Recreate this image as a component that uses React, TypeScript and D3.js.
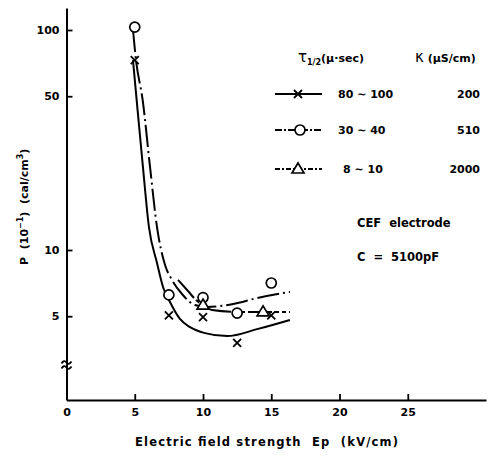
import { useEffect, useRef } from "react";
import * as d3 from "d3";

// measured points (E field kV/cm, P x10^-1 cal/cm3)
const crossPts: [number, number][] = [
  [5, 73],
  [7.5, 5.05],
  [10, 4.95],
  [12.5, 3.78],
  [15, 5.05],
];
const circlePts: [number, number][] = [
  [5, 103],
  [7.5, 6.25],
  [10, 6.08],
  [12.5, 5.17],
  [15, 7.08],
];
const trianglePts: [number, number][] = [
  [10, 5.62],
  [14.4, 5.23],
];

// hand drawn fit curves
const solidCurve: [number, number][] = [
  [4.87, 73], [5.14, 48], [5.6, 23.8], [6.04, 12.7], [6.63, 8.73],
  [7.07, 6.79], [7.58, 5.8], [8.31, 4.86], [9.05, 4.46], [10.15, 4.19],
  [11.76, 4.06], [14.03, 4.38], [16.37, 4.81],
];
const dashDotCurve: [number, number][] = [
  [4.87, 100], [5.09, 73], [5.58, 48], [6.12, 23.8], [6.63, 12.7],
  [7.22, 8.55], [7.73, 7.31], [8.46, 6.31], [9.41, 5.62], [10.29, 5.51],
  [12.2, 5.68], [13.96, 6.05], [16.37, 6.45],
];
const dottedCurve: [number, number][] = [
  [8.17, 7.31], [8.9, 6.51], [9.49, 5.92], [10.0, 5.62], [10.66, 5.34],
  [12.71, 5.23], [16.37, 5.23],
];

const xTicks = [0, 5, 10, 15, 20, 25];
const yTicks = [5, 10, 50, 100];

const legendTau = ["80 \u223C 100", "30 \u223C 40", "8 \u223C 10"];
const legendKappa = ["200", "510", "2000"];

const FONT = "'DejaVu Sans', sans-serif";

const App = () => {
  const width = 502;
  const height = 456;
  const xAxisRef = useRef<SVGGElement>(null);
  const yAxisRef = useRef<SVGGElement>(null);

  const xScale = d3.scaleLinear().domain([0, 30.73]).range([66.5, 486]);
  const yScale = d3
    .scaleLog()
    .domain([Math.pow(10, 1 - 150 / 220), Math.pow(10, 1 + 242 / 220)])
    .range([400, 8]);

  useEffect(() => {
    const style = (g: d3.Selection<SVGGElement, unknown, null, undefined>) => {
      g.attr("font-family", FONT).attr("font-size", 11).attr("font-weight", "bold");
      g.select(".domain").attr("stroke", "#000").attr("stroke-width", 2);
      g.selectAll(".tick line").attr("stroke", "#000").attr("stroke-width", 1.8);
      g.selectAll(".tick text").attr("fill", "#000");
    };
    if (xAxisRef.current) {
      d3.select(xAxisRef.current)
        .call(
          d3
            .axisBottom(xScale)
            .tickValues(xTicks)
            .tickSizeInner(-6)
            .tickSizeOuter(0)
            .tickPadding(8)
            .tickFormat(d3.format("d"))
        )
        .call(style);
    }
    if (yAxisRef.current) {
      d3.select(yAxisRef.current)
        .call(
          d3
            .axisLeft(yScale)
            .tickValues(yTicks)
            .tickSizeInner(-6)
            .tickSizeOuter(0)
            .tickPadding(7)
            .tickFormat(d3.format("d"))
        )
        .call(style);
    }
  }, []);

  const line = d3
    .line<[number, number]>()
    .x((d) => xScale(d[0]))
    .y((d) => yScale(d[1]))
    .curve(d3.curveMonotoneX);

  const crossPath = (cx: number, cy: number, s = 4) =>
    `M${cx - s},${cy - s}L${cx + s},${cy + s}M${cx - s},${cy + s}L${cx + s},${cy - s}`;
  const triPath = (cx: number, cy: number) =>
    `M${cx},${cy - 6}L${cx + 6},${cy + 4}L${cx - 6},${cy + 4}Z`;

  const x0 = xScale(0);
  const breakY = 365;

  const legendRows = [94, 130, 169];
  const dashes = [undefined, "7,2,2,2", "5,2,2,2"];

  return (
    <svg
      width={width}
      height={height}
      style={{ position: "absolute", left: 0, top: 0, background: "#fff" }}
    >
      <rect width={width} height={height} fill="#fff" />
      <g ref={xAxisRef} transform={`translate(0,${yScale.range()[0]})`} />
      <g ref={yAxisRef} transform={`translate(${x0},0)`} />

      {/* axis break */}
      {[-2.5, 2.5].map((o) => (
        <path
          key={o}
          d={`M${x0 - 5},${breakY + o + 1} q2.5,-4 5,-1 t5,-1`}
          fill="none"
          stroke="#000"
          strokeWidth={1.8}
        />
      ))}

      {/* curves */}
      <path d={line(solidCurve) ?? ""} fill="none" stroke="#000" strokeWidth={2} />
      <path
        d={line(dashDotCurve) ?? ""}
        fill="none"
        stroke="#000"
        strokeWidth={2}
        strokeDasharray="22,4,2,4"
      />
      <path
        d={line(dottedCurve) ?? ""}
        fill="none"
        stroke="#000"
        strokeWidth={2}
        strokeDasharray="24,3,4,3,4,3"
      />

      {/* points */}
      {crossPts.map(([x, y], i) => (
        <path
          key={"x" + i}
          d={crossPath(xScale(x), yScale(y))}
          stroke="#000"
          strokeWidth={1.8}
        />
      ))}
      {circlePts.map(([x, y], i) => (
        <circle
          key={"o" + i}
          cx={xScale(x)}
          cy={yScale(y)}
          r={5}
          fill="#fff"
          stroke="#000"
          strokeWidth={1.7}
        />
      ))}
      {trianglePts.map(([x, y], i) => (
        <path
          key={"t" + i}
          d={triPath(xScale(x), yScale(y))}
          fill="#fff"
          stroke="#000"
          strokeWidth={1.7}
        />
      ))}

      {/* legend */}
      <g fontFamily={FONT} fontWeight="bold" fontSize={11} fill="#000">
        <text x={298} y={62}>
          <tspan fontSize={15} fontWeight="normal">τ</tspan>
          <tspan fontSize={8} dy={3}>1/2</tspan>
          <tspan dy={-3}>(μ·sec)</tspan>
        </text>
        <text x={415} y={62}>
          <tspan fontSize={15} fontWeight="normal">κ</tspan>
          <tspan> (μS/cm)</tspan>
        </text>
        {legendRows.map((ly, i) => (
          <g key={i}>
            <line
              x1={275}
              x2={322}
              y1={ly}
              y2={ly}
              stroke="#000"
              strokeWidth={1.8}
              strokeDasharray={dashes[i]}
            />
            {i === 0 && <path d={crossPath(298, ly, 4)} stroke="#000" strokeWidth={1.8} />}
            {i === 1 && (
              <circle cx={300} cy={ly} r={5} fill="#fff" stroke="#000" strokeWidth={1.7} />
            )}
            {i === 2 && (
              <path d={triPath(298, ly)} fill="#fff" stroke="#000" strokeWidth={1.7} />
            )}
            <text x={i === 2 ? 343 : 338} y={ly + 4}>
              {legendTau[i]}
            </text>
            <text x={480} y={ly + 4} textAnchor="end">
              {legendKappa[i]}
            </text>
          </g>
        ))}
        <text x={357} y={227} fontSize={11.5} xmlSpace="preserve">
          CEF  electrode
        </text>
        <text x={357} y={261} fontSize={11.5} xmlSpace="preserve">
          C  =  5100pF
        </text>
      </g>

      {/* axis titles */}
      <text
        x={135}
        y={446}
        fontFamily={FONT}
        fontWeight="bold"
        fontSize={11.5}
        textLength={263}
        lengthAdjust="spacing"
        xmlSpace="preserve"
      >
        Electric field strength  Ep  (kV/cm)
      </text>
      <text
        transform="translate(28,265) rotate(-90)"
        fontFamily={FONT}
        fontWeight="bold"
        fontSize={11}
        xmlSpace="preserve"
      >
        <tspan>P  (10</tspan>
        <tspan fontSize={8} dy={-5}>−1</tspan>
        <tspan dy={5}>)  (cal/cm</tspan>
        <tspan fontSize={8} dy={-5}>3</tspan>
        <tspan dy={5}>)</tspan>
      </text>
    </svg>
  );
};

export default App;
